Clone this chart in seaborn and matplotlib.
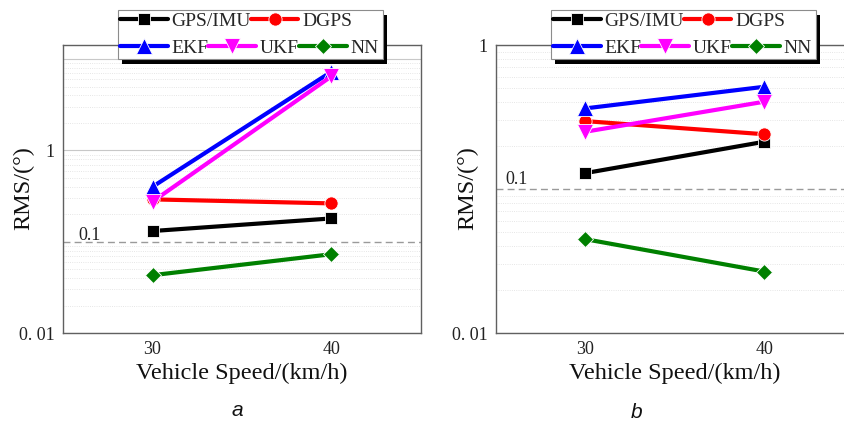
import numpy as np
import pandas as pd
import matplotlib
matplotlib.use("Agg")
import matplotlib.pyplot as plt
import matplotlib.transforms as mtransforms
import seaborn as sns
from matplotlib.lines import Line2D
from matplotlib.patches import Rectangle
from matplotlib.ticker import FixedLocator, FixedFormatter, LogLocator, NullFormatter

sns.set_theme(style="white")
plt.rcParams["font.family"] = ["Liberation Serif", "DejaVu Serif"]

# ---- data -------------------------------------------------------------
methods = ["GPS/IMU", "DGPS", "EKF", "UKF", "NN"]
speeds = [30, 40]

# panel a
gps_imu_a = [0.131, 0.180]
dgps_a = [0.291, 0.263]
ekf_a = [0.40, 7.3]
ukf_a = [0.275, 6.5]
nn_a = [0.043, 0.073]

# panel b
gps_imu_b = [0.129, 0.213]
dgps_b = [0.296, 0.240]
ekf_b = [0.363, 0.513]
ukf_b = [0.250, 0.404]
nn_b = [0.0448, 0.0267]

panel_a = dict(zip(methods, [gps_imu_a, dgps_a, ekf_a, ukf_a, nn_a]))
panel_b = dict(zip(methods, [gps_imu_b, dgps_b, ekf_b, ukf_b, nn_b]))

rows = []
for panel, table in (("a", panel_a), ("b", panel_b)):
    for m, vals in table.items():
        for s, v in zip(speeds, vals):
            rows.append({"panel": panel, "method": m, "speed": s, "rms": v})
df = pd.DataFrame(rows)

# ---- styling ----------------------------------------------------------
colors = {"GPS/IMU": "#000000", "DGPS": "#ff0000", "EKF": "#0000ff",
          "UKF": "#ff00ff", "NN": "#008000"}
markers = {"GPS/IMU": "s", "DGPS": "o", "EKF": "^", "UKF": "v", "NN": "D"}
msizes = {"GPS/IMU": 9, "DGPS": 9.5, "EKF": 11, "UKF": 11, "NN": 8}
LW = 3
EDGE = dict(markeredgecolor="white", markeredgewidth=0.6)

fig = plt.figure(figsize=(8.45, 4.21), dpi=100)
W, H = 845, 421
ax_a = fig.add_axes([63 / W, 88 / H, 358 / W, 288 / H])
ax_b = fig.add_axes([496 / W, 88 / H, 358 / W, 288 / H])


def draw_panel(ax, panel, ylim, yticks, ylabels, tenth_x, tenth_dy, ylabel_x):
    sub = df[df["panel"] == panel]
    for m in methods:
        d = sub[sub["method"] == m]
        sns.lineplot(data=d, x="speed", y="rms", ax=ax, color=colors[m],
                     marker=markers[m], markersize=msizes[m], linewidth=LW,
                     legend=False, **EDGE)
    ax.set_yscale("log")
    ax.set_xlim(25, 45)
    ax.set_ylim(*ylim)
    ax.set_xticks(speeds)
    ax.set_xticklabels([str(s) for s in speeds])
    ax.yaxis.set_major_locator(FixedLocator(yticks))
    ax.yaxis.set_major_formatter(FixedFormatter(ylabels))
    ax.yaxis.set_minor_locator(LogLocator(base=10, subs=np.arange(2, 10)))
    ax.yaxis.set_minor_formatter(NullFormatter())

    # grid: light solid majors, dotted minors, dashed line at 0.1
    ax.yaxis.grid(True, which="major", color="#c8c8c8", linewidth=0.8,
                  linestyle="-")
    ax.yaxis.grid(True, which="minor", color="#dedede", linewidth=0.6,
                  linestyle=":")
    ax.xaxis.grid(False)
    for tv, gl in zip(yticks, ax.yaxis.get_gridlines()):
        if np.isclose(tv, 0.1):
            gl.set_linestyle((0, (5, 3)))
            gl.set_color("#9a9a9a")
            gl.set_linewidth(1.0)
    ax.set_axisbelow(True)

    ax.tick_params(axis="both", which="major", direction="in", length=3.5,
                   width=0.8, color="#555555", labelsize=13,
                   labelcolor="#222222", pad=6)
    ax.tick_params(axis="y", which="minor", length=0)
    for sp in ax.spines.values():
        sp.set_visible(True)
        sp.set_color("#606060")
        sp.set_linewidth(1.0)

    blend = mtransforms.blended_transform_factory(ax.transAxes, ax.transData)
    ax.annotate("0.1", xy=(tenth_x, 0.1), xycoords=blend,
                xytext=(0, tenth_dy), textcoords="offset points",
                ha="left", va="baseline", fontsize=13, color="#222222")

    ax.set_xlabel("Vehicle Speed/(km/h)", fontsize=17.5, color="#111111",
                  labelpad=3)
    ax.set_ylabel("RMS/(°)", fontsize=17.5, color="#111111")
    ax.yaxis.set_label_coords(ylabel_x, 0.503)


draw_panel(ax_a, "a", (0.01, 14.3), [0.01, 0.1, 1, 10],
           ["0. 01", "", "1", ""], 0.042, 1.2, -0.081)
draw_panel(ax_b, "b", (0.01, 1.0), [0.01, 0.1, 1],
           ["0. 01", "", "1"], 0.025, 3.8, -0.049)


def legend_handle(m):
    return Line2D([], [], color=colors[m], marker=markers[m],
                  markersize=msizes[m], linewidth=LW, **EDGE)


def add_legend(ax):
    kw = dict(loc="upper left", frameon=False, borderpad=0, borderaxespad=0,
              handlelength=2.45, handletextpad=0.2, columnspacing=0,
              fontsize=14)
    top = methods[:2]
    bottom = methods[2:]
    leg1 = ax.legend([legend_handle(m) for m in top], top, ncol=len(top),
                     bbox_to_anchor=(0.159, 1.1146), **kw)
    ax.add_artist(leg1)
    leg2 = ax.legend([legend_handle(m) for m in bottom], bottom,
                     ncol=len(bottom), bbox_to_anchor=(0.159, 1.0208), **kw)
    return leg1, leg2


legends = [add_legend(ax_a), add_legend(ax_b)]

# framed box with a hard black shadow behind each two-row legend
fig.canvas.draw()
renderer = fig.canvas.get_renderer()
for ax, (l1, l2) in zip((ax_a, ax_b), legends):
    b1 = l1.get_window_extent(renderer)
    b2 = l2.get_window_extent(renderer)
    x0 = min(b1.x0, b2.x0) - 2
    x1 = max(b1.x1, b2.x1) + 4
    y0 = min(b1.y0, b2.y0) - 2
    y1 = max(b1.y1, b2.y1) + 2
    shadow = Rectangle((x0 + 4, y0 - 5), x1 - x0, y1 - y0,
                       transform=mtransforms.IdentityTransform(),
                       facecolor="black", edgecolor="none", zorder=4.7,
                       clip_on=False)
    frame = Rectangle((x0, y0), x1 - x0, y1 - y0,
                      transform=mtransforms.IdentityTransform(),
                      facecolor="white", edgecolor="#8c8c8c", linewidth=0.8,
                      zorder=4.8, clip_on=False)
    ax.add_artist(shadow)
    ax.add_artist(frame)

fig.text(237 / W, 1 - 416.5 / H, "a", ha="center", va="baseline",
         fontsize=15, style="italic", family=["Liberation Sans", "DejaVu Sans"],
         color="#111111")
fig.text(637 / W, 1 - 417.5 / H, "b", ha="center", va="baseline",
         fontsize=15, style="italic", family=["Liberation Sans", "DejaVu Sans"],
         color="#111111")

fig.savefig("out.png", dpi=100, facecolor="white")
